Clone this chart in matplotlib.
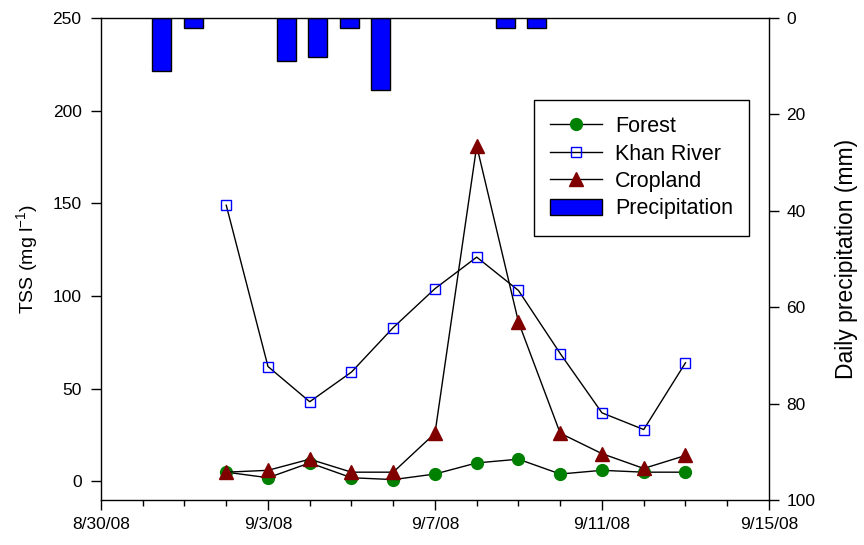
from datetime import datetime

import matplotlib

matplotlib.use("Agg")
import matplotlib.dates as mdates
import matplotlib.pyplot as plt
from matplotlib.ticker import FixedLocator, MultipleLocator

plt.rcParams["font.family"] = ["Liberation Sans", "DejaVu Sans"]

# sampling dates for TSS (9/2/08 .. 9/13/08)
sample_dates = [datetime(2008, 9, d) for d in range(2, 14)]
forest = [5, 2, 10, 2, 1, 4, 10, 12, 4, 6, 5, 5]
khan_river = [149, 62, 43, 59, 83, 104, 121, 103, 69, 37, 28, 64]
cropland = [5, 6, 12, 5, 5, 26, 181, 86, 26, 15, 7, 14]

# daily precipitation (mm) on rain days, drawn on its own category axis
precip_index = [0, 1, 4, 5, 6, 7, 11, 12]
precipitation = [11, 2, 9, 8, 2, 15, 2, 2]

x_major = [datetime(2008, 8, 30), datetime(2008, 9, 3), datetime(2008, 9, 7),
           datetime(2008, 9, 11), datetime(2008, 9, 15)]


def date_label(value, pos=None):
    d = mdates.num2date(value)
    return f"{d.month}/{d.day}/{d.year % 100:02d}"


fig = plt.figure(figsize=(8.64, 5.45), dpi=100)
rect = [0.1169, 0.0826, 0.7731, 0.8844]

ax_p = fig.add_axes(rect)
ax = fig.add_axes(rect)
ax.patch.set_visible(False)

# precipitation bars hanging from the top
bars = ax_p.bar(precip_index, precipitation, width=0.61, color="#0000ff",
                edgecolor="black", linewidth=1.0, label="Precipitation")
ax_p.set_xlim(-1.95, 19.46)
ax_p.set_ylim(100, 0)
ax_p.xaxis.set_visible(False)
ax_p.yaxis.tick_right()
ax_p.yaxis.set_label_position("right")
ax_p.set_yticks([0, 20, 40, 60, 80, 100])
ax_p.set_ylabel("Daily precipitation (mm)", fontsize=16.5, labelpad=14)
ax_p.tick_params(axis="y", direction="out", length=7, width=1, labelsize=12.5, pad=5.5)
for side in ["left", "top", "bottom"]:
    ax_p.spines[side].set_visible(False)
ax_p.spines["right"].set_linewidth(1)

line_kw = dict(color="black", linewidth=1.0)
h1, = ax.plot(sample_dates, forest, marker="o", markersize=8.5, markerfacecolor="#008000",
              markeredgecolor="#008000", label="Forest", **line_kw)
h2, = ax.plot(sample_dates, khan_river, marker="s", markersize=7, markerfacecolor="none",
              markeredgecolor="#0000ff", markeredgewidth=1.0, label="Khan River", **line_kw)
h3, = ax.plot(sample_dates, cropland, marker="^", markersize=9.5, markerfacecolor="#800000",
              markeredgecolor="#800000", label="Cropland", **line_kw)

ax.set_xlim(datetime(2008, 8, 30), datetime(2008, 9, 15))
ax.set_ylim(-10, 250)
ax.set_yticks([0, 50, 100, 150, 200, 250])
ax.xaxis.set_major_locator(FixedLocator(mdates.date2num(x_major)))
ax.xaxis.set_minor_locator(MultipleLocator(1))
ax.xaxis.set_major_formatter(date_label)
ax.tick_params(axis="both", which="major", direction="out", length=7, width=1, labelsize=12.5)
ax.tick_params(axis="y", which="major", pad=7)
ax.tick_params(axis="x", which="minor", direction="out", length=4, width=1)
ax.tick_params(axis="x", which="major", pad=5)
ax.set_ylabel("TSS (mg l$^{\\mathregular{-1}}$)", fontsize=14, labelpad=8)
ax.spines["right"].set_visible(False)
for side in ["left", "top", "bottom"]:
    ax.spines[side].set_linewidth(1)

leg = ax.legend([h1, h2, h3, bars], ["Forest", "Khan River", "Cropland", "Precipitation"],
                loc="upper right", bbox_to_anchor=(0.970, 0.830), borderaxespad=0,
                fontsize=15.5, fancybox=False, edgecolor="black", framealpha=1,
                handlelength=2.4, handleheight=0.75, labelspacing=0.3, borderpad=0.75,
                handletextpad=0.6)
leg.get_frame().set_linewidth(1)

fig.savefig("out.png", dpi=100)
